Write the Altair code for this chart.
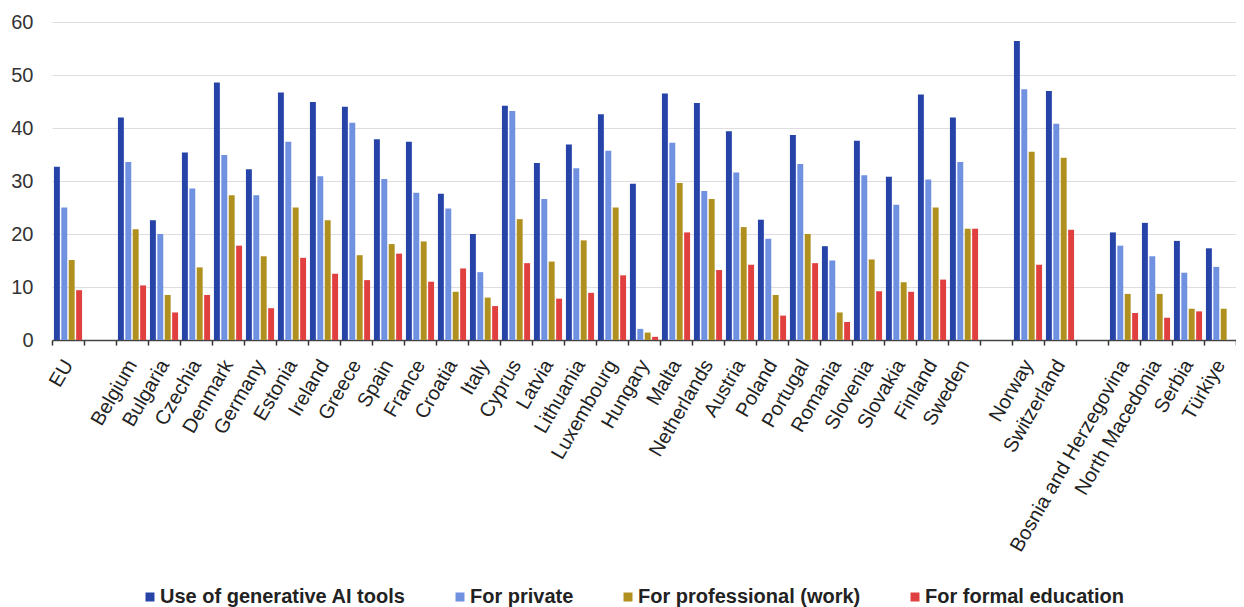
import altair as alt
import pandas as pd

# Categories (blank strings are the gaps between country groups)
categories = [
    "EU", " ",
    "Belgium", "Bulgaria", "Czechia", "Denmark", "Germany", "Estonia", "Ireland",
    "Greece", "Spain", "France", "Croatia", "Italy", "Cyprus", "Latvia", "Lithuania",
    "Luxembourg", "Hungary", "Malta", "Netherlands", "Austria", "Poland", "Portugal",
    "Romania", "Slovenia", "Slovakia", "Finland", "Sweden", "  ",
    "Norway", "Switzerland", "   ",
    "Bosnia and Herzegovina", "North Macedonia", "Serbia", "Türkiye",
]

countries = [c for c in categories if c.strip()]

use_ai = [32.7, 42.0, 22.6, 35.4, 48.6, 32.2, 46.7, 44.9, 44.0, 37.9, 37.4, 27.6, 20.0,
          44.2, 33.4, 36.9, 42.6, 29.5, 46.5, 44.7, 39.4, 22.7, 38.7, 17.7, 37.6, 30.8,
          46.3, 42.0, 56.4, 47.0, 20.3, 22.1, 18.7, 17.3]
private = [25.0, 33.6, 20.0, 28.6, 34.9, 27.3, 37.4, 30.9, 41.0, 30.4, 27.8, 24.8, 12.8,
           43.2, 26.6, 32.4, 35.7, 2.1, 37.2, 28.1, 31.6, 19.1, 33.2, 15.0, 31.1, 25.5,
           30.3, 33.6, 47.3, 40.8, 17.8, 15.8, 12.7, 13.8]
professional = [15.1, 20.9, 8.5, 13.7, 27.3, 15.8, 25.0, 22.6, 16.0, 18.1, 18.6, 9.1, 8.0,
                22.8, 14.8, 18.8, 25.0, 1.4, 29.6, 26.6, 21.3, 8.5, 20.0, 5.2, 15.2, 10.9,
                25.0, 21.0, 35.5, 34.4, 8.7, 8.7, 5.9, 5.9]
education = [9.4, 10.3, 5.2, 8.5, 17.8, 6.0, 15.5, 12.5, 11.3, 16.3, 11.0, 13.5, 6.4,
             14.5, 7.8, 8.9, 12.2, 0.6, 20.3, 13.2, 14.2, 4.6, 14.5, 3.4, 9.2, 9.1,
             11.4, 21.0, 14.2, 20.8, 5.1, 4.2, 5.4, None]

series = ["Use of generative AI tools", "For private", "For professional (work)",
          "For formal education"]
colors = ["#2644A7", "#7090E0", "#B09120", "#E04040"]

rows = []
for i, c in enumerate(countries):
    for s, vals in zip(series, [use_ai, private, professional, education]):
        v = vals[i]
        if v is not None:
            rows.append({"country": c, "series": s, "value": v})
df = pd.DataFrame(rows)

FONT = "Liberation Sans"

chart = alt.Chart(df).mark_bar().encode(
    x=alt.X(
        "country:N",
        scale=alt.Scale(domain=categories, paddingInner=0, paddingOuter=0),
        axis=alt.Axis(
            title=None, labelAngle=300, labelAlign="right", labelBaseline="middle",
            labelFontSize=20, labelFont=FONT, labelColor="#222222", labelPadding=16,
            labelOverlap=False, labelLimit=400, tickBand="extent", tickSize=5,
            tickWidth=1.5, tickColor="#333333", domainColor="#444444", domainWidth=1.5,
            grid=False,
        ),
    ),
    xOffset=alt.XOffset(
        "series:N", scale=alt.Scale(domain=series, paddingInner=0.2, paddingOuter=0.26)
    ),
    y=alt.Y(
        "value:Q",
        scale=alt.Scale(domain=[0, 60], nice=False),
        axis=alt.Axis(
            title=None, values=[0, 10, 20, 30, 40, 50, 60], domain=False, ticks=False,
            labelFontSize=20, labelFont=FONT, labelColor="#333333", labelPadding=19,
            gridColor="#dedede", gridWidth=1,
        ),
    ),
    color=alt.Color(
        "series:N",
        scale=alt.Scale(domain=series, range=colors),
        legend=alt.Legend(
            title=None, orient="none", legendX=88, legendY=565, direction="horizontal",
            symbolType="square", symbolSize=81, symbolStrokeWidth=0, padding=0,
            labelFontSize=20, labelFontWeight="bold", labelFont=FONT,
            labelColor="#222222", columnPadding=44, labelOffset=0, labelLimit=400,
        ),
    ),
).properties(
    width=1184,
    height=318,
    autosize=alt.AutoSizeParams(type="none"),
    padding={"left": 44, "top": 14, "right": 0, "bottom": 280},
    background="white",
).configure_view(stroke=None)

chart.save("out.html", embed_options={"renderer": "svg", "actions": False})
